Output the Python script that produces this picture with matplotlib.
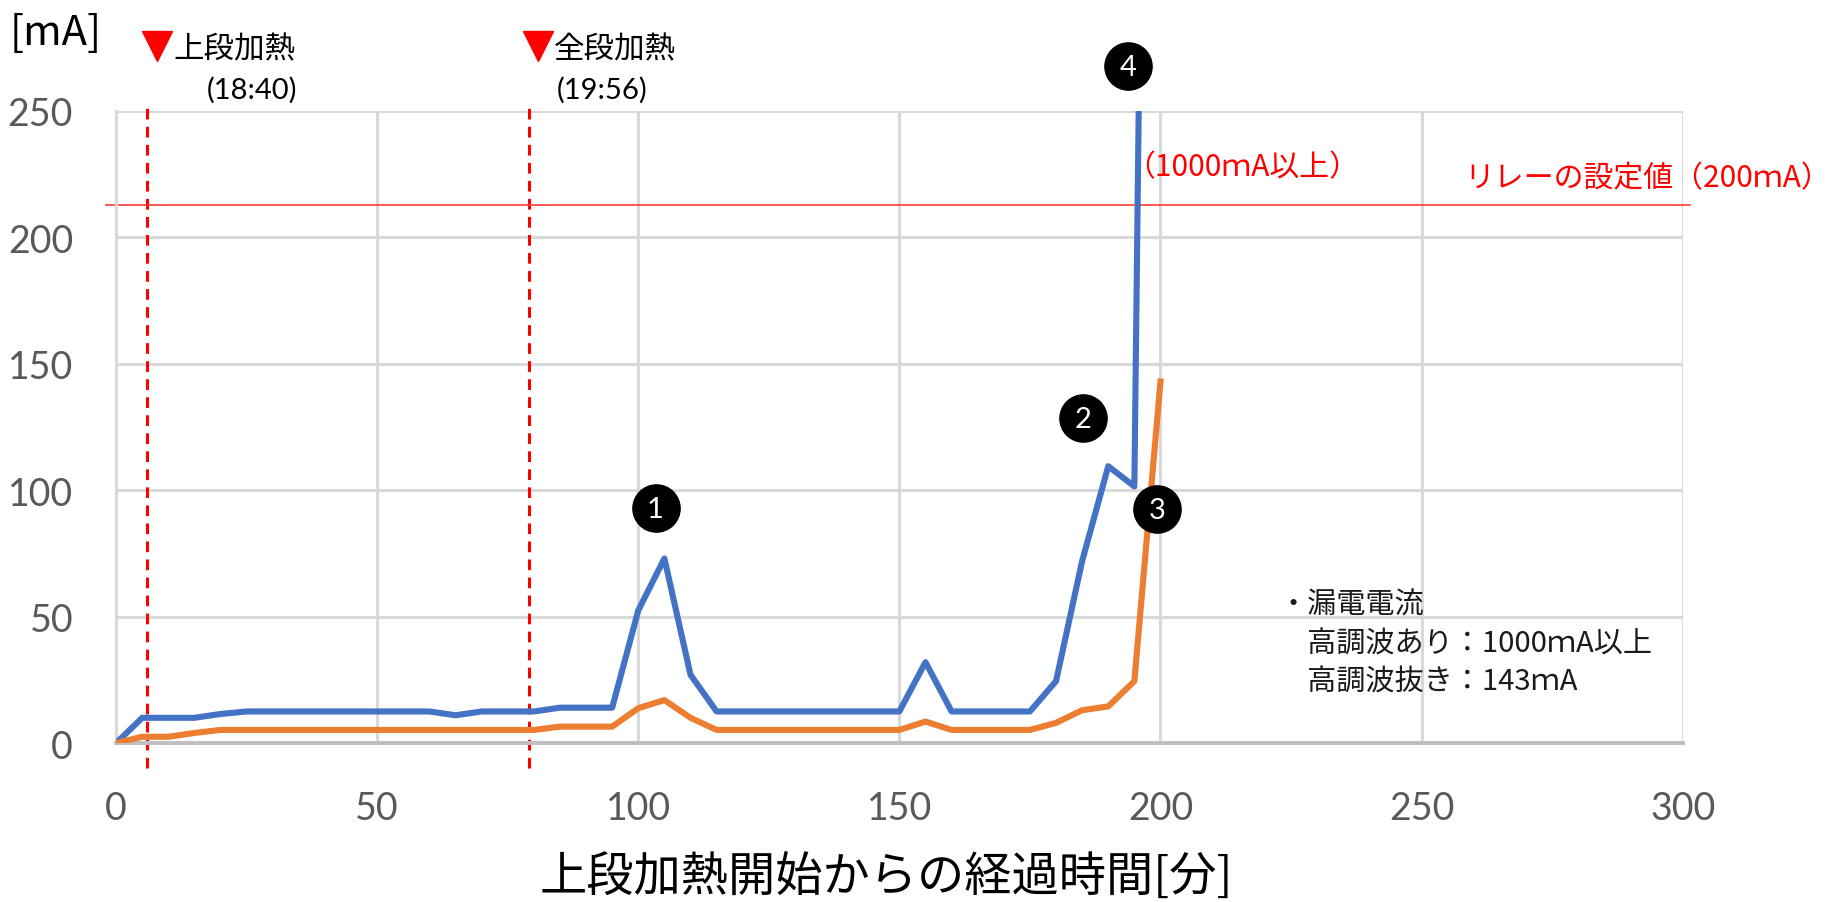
import matplotlib.pyplot as plt

plt.rcParams['font.family'] = ['Noto Sans CJK JP', 'DejaVu Sans']

# elapsed minutes since upper heater start
minutes = list(range(0, 205, 5))

# leakage current [mA], with harmonics
with_harmonics = [0, 10, 10, 10, 11.5, 12.5, 12.5, 12.5, 12.5, 12.5,
                  12.5, 12.5, 12.5, 11, 12.5, 12.5, 12.5, 14, 14, 14,
                  52.5, 73, 27, 12.5, 12.5, 12.5, 12.5, 12.5, 12.5, 12.5,
                  12.5, 32, 12.5, 12.5, 12.5, 12.5, 24.5, 72, 109.5, 101.5,
                  1000]
# leakage current [mA], harmonics filtered out
without_harmonics = [0, 2.5, 2.5, 4, 5.2, 5.2, 5.2, 5.2, 5.2, 5.2,
                     5.2, 5.2, 5.2, 5.2, 5.2, 5.2, 5.2, 6.5, 6.5, 6.5,
                     13.8, 17, 10, 5.2, 5.2, 5.2, 5.2, 5.2, 5.2, 5.2,
                     5.2, 8.5, 5.2, 5.2, 5.2, 5.2, 8, 13, 14.5, 24.5,
                     143]

relay_setting = 213
events = [6, 79]
event_names = ['上段加熱', '全段加熱']
event_times = ['(18:40)', '(19:56)']

grid_c = '#d9d9d9'
tick_c = '#595959'

fig = plt.figure(figsize=(18.43, 9.03), dpi=100)
ax = fig.add_axes([0.063, 0.176, 0.850, 0.700])

ax.plot(minutes, with_harmonics, color='#4472C4', lw=4.4, solid_joinstyle='round', zorder=3)
ax.plot(minutes, without_harmonics, color='#ED7D31', lw=4.4, solid_joinstyle='round', zorder=3)

ax.set_xlim(0, 300)
ax.set_ylim(0, 250)
ax.set_xticks(range(0, 301, 50))
ax.set_yticks(range(0, 251, 50))
ax.grid(True, color=grid_c, lw=2.2)
ax.set_axisbelow(True)
ax.tick_params(length=0, labelsize=27, colors=tick_c, pad=31)
ax.tick_params(axis='x', pad=34)
for lab in ax.get_xticklabels() + ax.get_yticklabels():
    lab.set_family('Lato')
for s in ['top', 'right']:
    ax.spines[s].set_visible(False)
ax.spines['left'].set_color(grid_c)
ax.spines['left'].set_linewidth(2.2)
ax.spines['bottom'].set_color('#bfbfbf')
ax.spines['bottom'].set_linewidth(2.8)

# heater events
for x, name, t, tx in zip(events, event_names, event_times, [26, 93]):
    ax.plot([x, x], [-10, 253], color='red', lw=2.2, ls=(0, (3.5, 2.4)), clip_on=False, zorder=2)
    ax.plot(x + 1.8, 275.5, marker='v', ms=22, color='red', clip_on=False)
    ax.text(x + 4.9, 274.5, name, fontsize=22, va='center', ha='left')
    ax.text(tx, 258.5, t, fontsize=21, va='center', ha='center', family='Lato')

# relay threshold
ax.plot([-2, 301.5], [relay_setting, relay_setting], color='#ff3b3b', lw=1.2, clip_on=False, zorder=2)
ax.text(328.5, 223.5, 'リレーの設定値（200ｍA）', color='red', fontsize=21.5, ha='right', va='center')
ax.text(193.3, 228, '（1000ｍA以上）', color='red', fontsize=21.5, ha='left', va='center')

# circled markers
for num, (x, y) in enumerate([(103.3, 93), (185.2, 128.7), (199.4, 92.5), (193.8, 267.7)], 1):
    ax.plot(x, y, 'o', ms=34, color='black', clip_on=False, zorder=5)
    ax.text(x, y - 0.5, str(num), color='white', fontsize=21, ha='center', va='center',
            family='Lato', zorder=6)

ax.text(222.6, 39.5, '・漏電電流\n　高調波あり：1000ｍA以上\n　高調波抜き：143ｍA',
        fontsize=21, ha='left', va='center', linespacing=1.38, color='#1a1a1a')

fig.text(0.030, 0.963, '[mA]', fontsize=30, ha='center', va='center')
fig.text(0.481, 0.027, '上段加熱開始からの経過時間[分]', fontsize=34, ha='center', va='center')

fig.savefig('out.png', dpi=100)
